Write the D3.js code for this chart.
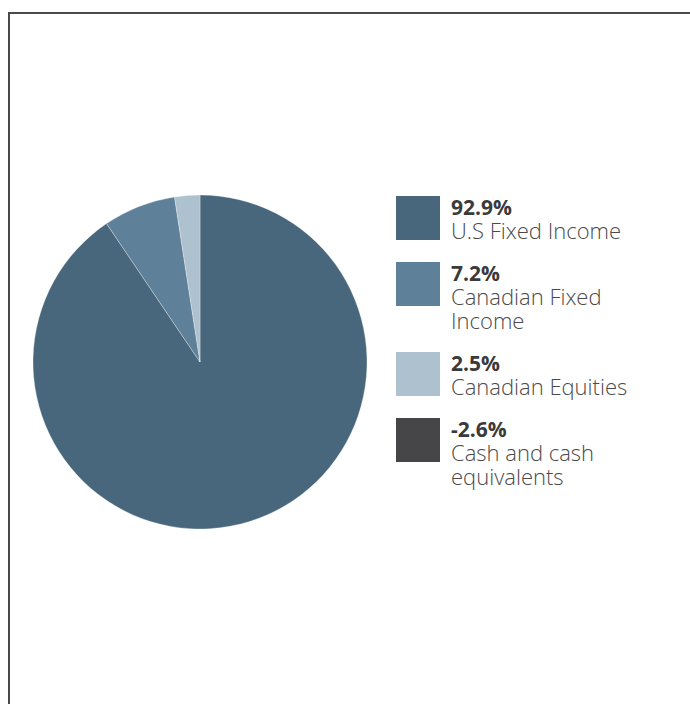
<!DOCTYPE html>
<html>
<head>
<meta charset="utf-8">
<script src="https://cdn.jsdelivr.net/npm/d3@7"></script>
<style>
  html, body { margin: 0; padding: 0; background: #fff; }
  svg { display: block; }
</style>
</head>
<body>
<div id="chart"></div>
<script>
const categories = ["U.S Fixed Income", "Canadian Fixed Income", "Canadian Equities", "Cash and cash equivalents"];
const values = [92.9, 7.2, 2.5, -2.6];
const colors = ["#48677c", "#5e8199", "#adc1cf", "#464648"];

const W = 690, H = 704;
const svg = d3.select("#chart")
    .append("svg")
    .attr("width", W)
    .attr("height", H);

// frame (runs off the right and bottom edges like the original)
svg.append("path")
    .attr("d", `M9,${H + 5}V13H${W + 5}`)
    .attr("fill", "none")
    .attr("stroke", "#4a4a4a")
    .attr("stroke-width", 2);

const items = categories.map((c, i) => ({ name: c, value: values[i], color: colors[i] }));

// negative weights can't be drawn as slices
const pie = d3.pie().sort(null).value((d) => Math.max(0, d.value));
const arc = d3.arc().innerRadius(0).outerRadius(167);

const g = svg.append("g").attr("transform", "translate(200,362)");
g.selectAll("path")
    .data(pie(items).filter((d) => d.data.value > 0))
    .join("path")
    .attr("d", arc)
    .attr("fill", (d) => d.data.color)
    .attr("stroke", "#fff")
    .attr("stroke-width", 0.5)
    .attr("stroke-opacity", 0.6);

// legend
const fmt = (v) => v.toFixed(1) + "%"; // plain hyphen for negatives
const lineH = 24;
const maxW = 215;
let y = 196;

const legend = svg.append("g").attr("font-family", "'Open Sans', sans-serif");

items.forEach((d) => {
    const item = legend.append("g").attr("transform", `translate(396,${y})`);
    item.append("rect").attr("width", 44).attr("height", 44).attr("fill", d.color);

    const text = item.append("text").attr("fill", "#3a3a3a");
    text.append("tspan")
        .attr("x", 55)
        .attr("y", 19)
        .attr("font-size", 21)
        .attr("font-weight", "bold")
        .text(fmt(d.value));

    // wrap label
    const words = d.name.split(" ");
    let lines = 1;
    const mk = (n) => text.append("tspan")
        .attr("x", 55)
        .attr("y", 19 + lineH * n)
        .attr("font-size", 22)
        .attr("font-weight", 300)
        .attr("fill", "#4a4a4a");
    let tspan = mk(1);
    let cur = [];
    words.forEach((w) => {
        cur.push(w);
        tspan.text(cur.join(" "));
        if (tspan.node().getComputedTextLength() > maxW && cur.length > 1) {
            cur.pop();
            tspan.text(cur.join(" "));
            cur = [w];
            lines++;
            tspan = mk(lines).text(w);
        }
    });

    y += (lines + 1) * lineH + 18;
});
</script>
</body>
</html>
